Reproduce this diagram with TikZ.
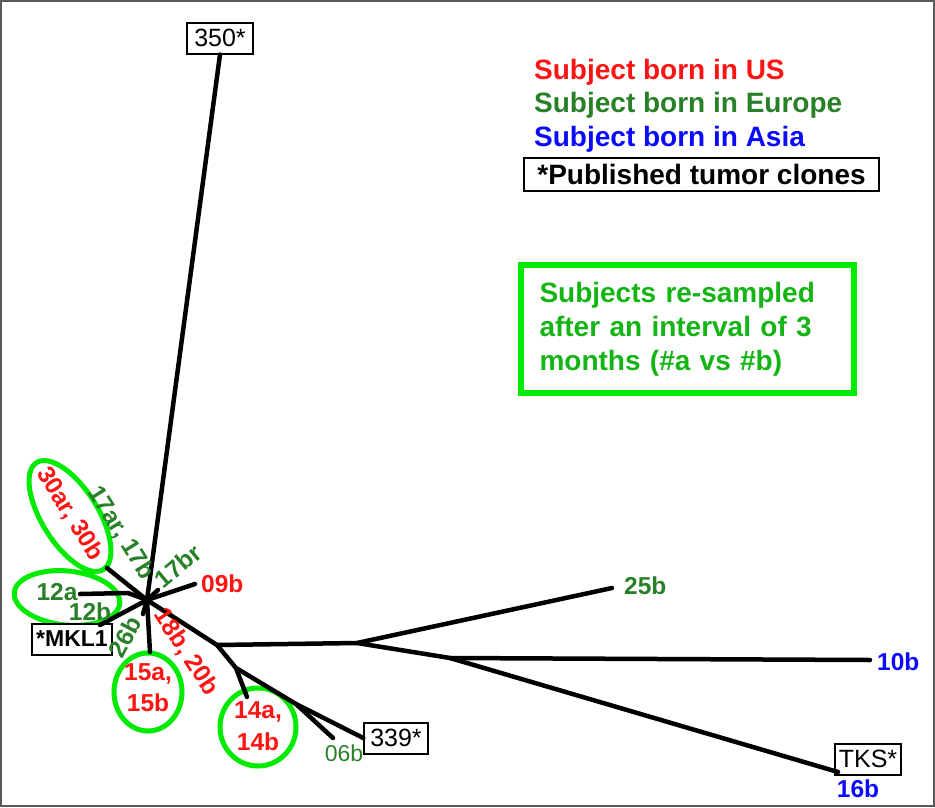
\documentclass[tikz,border=0pt]{standalone}
\usepackage{fontspec}
\setmainfont{Liberation Sans}
\usetikzlibrary{shapes.geometric}
\definecolor{usred}{RGB}{255,20,20}
\definecolor{eugreen}{RGB}{40,128,40}
\definecolor{asblue}{RGB}{10,10,255}
\definecolor{limeg}{RGB}{0,235,0}
\definecolor{boxgreen}{RGB}{20,180,20}
\definecolor{framegray}{RGB}{90,90,90}
\begin{document}
\begin{tikzpicture}[x=1pt,y=-1pt,
  br/.style={line width=4.5pt, line cap=round, line join=round},
  lbl/.style={font=\fontsize{24.5}{26}\selectfont\bfseries, inner sep=0pt},
  lblr/.style={font=\fontsize{25}{26}\selectfont, inner sep=0pt},
  clone/.style={draw, line width=2pt, inner xsep=6pt, inner ysep=3pt, minimum height=31pt, fill=white},
  legend/.style={font=\fontsize{28}{32}\selectfont\bfseries, anchor=west, inner sep=0pt},
  ring/.style={draw=limeg, line width=5pt, ellipse, inner sep=0pt}]
\useasboundingbox (0,0) rectangle (935,807);
\draw[framegray, line width=2pt] (1,1) rectangle (934,806);

% legend
\node[legend, text=usred] (lus) at (534,72) {Subject born in US};
\node[legend, text=eugreen] (leu) at (534,105) {Subject born in Europe};
\node[legend, text=asblue] (las) at (534,139) {Subject born in Asia};
\node[draw, line width=2pt, minimum width=355pt, minimum height=33pt, inner sep=0pt,
      font=\fontsize{28}{32}\selectfont\bfseries] (lpub) at (701.5,174) {*Published tumor clones};
\node[draw=limeg, line width=6pt, minimum width=333pt, minimum height=128pt, inner sep=0pt,
      text width=296pt, align=left, text=boxgreen,
      font=\fontsize{28}{34}\selectfont\bfseries] (resamp) at (687.5,329)
      {Subjects re-sampled\\after an interval of 3\\months (\#a vs \#b)};

% rings
\node[ring, rotate=-58, minimum width=126pt, minimum height=56pt] (e30) at (70,516) {};
\node[ring, rotate=-6, minimum width=106pt, minimum height=54pt] (e12) at (67,598) {};
\node[ring, minimum width=68pt, minimum height=78pt] (e15) at (148,692) {};
\node[ring, minimum width=76pt, minimum height=78pt] (e14) at (258,727) {};

% tree coordinates
\coordinate (hub) at (147,600);
\coordinate (t09) at (195,584);
\coordinate (t17br) at (158,590);
\coordinate (t30) at (107,568);
\coordinate (j12) at (128,593);
\coordinate (t12a) at (80,594);
\coordinate (t12b) at (100,625);
\coordinate (t26) at (143,614);
\coordinate (t15) at (150,652);
\coordinate (nA) at (217,645);
\coordinate (nB) at (236,668);
\coordinate (t14) at (247,697);
\coordinate (nC) at (296,704);
\coordinate (t06) at (333,738);
\coordinate (nD) at (357,643);
\coordinate (t25) at (612,588);
\coordinate (nE) at (450,658);
\coordinate (t10) at (870,660);
\coordinate (tTKS) at (838,772);

% clone boxes
\node[clone, lblr, inner xsep=7pt] (b350) at (220,38) {350*};
\node[clone, lbl, font=\fontsize{23}{26}\selectfont\bfseries, inner xsep=4pt] (bMKL) at (72,639) {*MKL1};
\node[clone, lblr, inner xsep=6pt] (b339) at (396,738) {339*};
\node[clone, lblr, inner xsep=4pt] (bTKS) at (868,759) {TKS*};

% branches
\draw[br] (hub) -- (b350.south);
\draw[br] (hub) -- (t09);
\draw[br] (hub) -- (t17br);
\draw[br] (hub) -- (t30);
\draw[br] (hub) -- (j12) -- (t12a);
\draw[br] (hub) -- (t12b);
\draw[br] (hub) -- (t26);
\draw[br] (hub) -- (t15);
\draw[br] (hub) -- (nA) -- (nB) -- (nC) -- (b339.west);
\draw[br] (nB) -- (t14);
\draw[br] (nC) -- (t06);
\draw[br] (nA) -- (nD) -- (t25);
\draw[br] (nD) -- (nE) -- (t10);
\draw[br] (nE) -- (tTKS);

% labels
\node[lbl, text=usred, rotate=-58] (l30) at (70,514) {30ar, 30b};
\node[lbl, text=eugreen, rotate=-58] (l17) at (121,533) {17ar, 17b};
\node[lbl, text=eugreen, rotate=40] (l17br) at (178,566) {17br};
\node[lbl, text=usred, anchor=west] (l09) at (201,584) {09b};
\node[lbl, text=eugreen] (l12a) at (57,592) {12a};
\node[lbl, text=eugreen] (l12b) at (90,612) {12b};
\node[lbl, text=eugreen, rotate=62] (l26) at (125,637) {26b};
\node[lbl, text=usred, rotate=-57] (l18) at (186,652) {18b, 20b};
\node[lbl, text=usred] (l15a) at (148,674) {15a,};
\node[lbl, text=usred] (l15b) at (148,703) {15b};
\node[lbl, text=usred] (l14a) at (258,712) {14a,};
\node[lbl, text=usred] (l14b) at (258,742) {14b};
\node[lblr, font=\fontsize{23}{26}\selectfont, text=eugreen] (l06) at (344,753) {06b};
\node[lbl, text=eugreen, anchor=west] (l25) at (624,586) {25b};
\node[lbl, text=asblue, anchor=west] (l10) at (877,662) {10b};
\node[lbl, text=asblue] (l16) at (858,789) {16b};
\end{tikzpicture}
\end{document}
